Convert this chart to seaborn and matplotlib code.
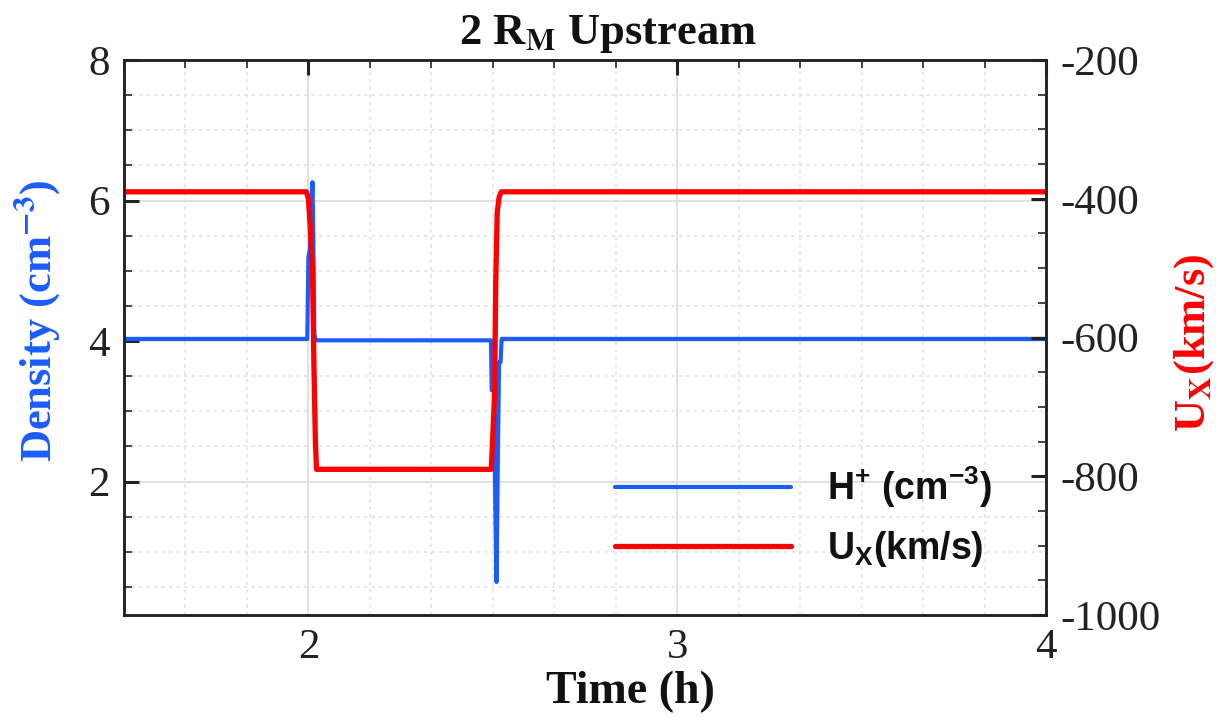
import matplotlib
matplotlib.use("Agg")
import matplotlib.pyplot as plt
import seaborn as sns
from matplotlib.ticker import MultipleLocator, FixedLocator
from matplotlib.font_manager import FontProperties

# ---- data ----
time_density = [1.5, 1.997, 2.0, 2.004, 2.008, 2.011, 2.013, 2.016, 2.02,
                2.495, 2.497, 2.503, 2.507, 2.51, 2.514, 2.517, 2.521, 2.524, 4.0]
density = [4.03, 4.03, 5.2, 5.3, 5.8, 6.26, 5.6, 4.1, 4.01,
           4.01, 3.3, 3.3, 1.6, 0.57, 2.5, 3.7, 3.7, 4.03, 4.03]

time_ux = [1.5, 1.995, 2.0, 2.005, 2.011, 2.015, 2.019, 2.022,
           2.496, 2.505, 2.508, 2.512, 2.517, 2.523, 4.0]
ux = [-390, -390, -400, -440, -500, -640, -750, -790,
      -790, -680, -520, -420, -398, -390, -390]

x_ticks = [2, 3, 4]
density_ticks = [2, 4, 6, 8]
ux_ticks = [-1000, -800, -600, -400, -200]

label_density = "H$^{\\mathbf{+}}$ (cm$^{\\mathbf{-3}}$)"
label_ux = "U$_{\\mathbf{X}}$(km/s)"

# ---- style ----
sns.set_theme(style="white")
plt.rcParams['font.family'] = ['Liberation Serif', 'DejaVu Serif']
plt.rcParams['axes.unicode_minus'] = False
plt.rcParams['mathtext.fontset'] = 'custom'
plt.rcParams['mathtext.rm'] = 'Liberation Sans:bold'
plt.rcParams['mathtext.bf'] = 'Liberation Sans:bold'
plt.rcParams['mathtext.it'] = 'Liberation Sans:bold'

BLUE = '#1a5cff'
RED = '#ff0000'

fig = plt.figure(figsize=(12.16, 7.18), dpi=100)
ax = fig.add_axes([124 / 1216, 1 - 615 / 718, 922 / 1216, 555 / 718])
ax2 = ax.twinx()

sns.lineplot(x=time_density, y=density, ax=ax, color=BLUE, lw=3.0,
             estimator=None, sort=False, label=label_density, legend=False)
sns.lineplot(x=time_ux, y=ux, ax=ax2, color=RED, lw=3.8,
             estimator=None, sort=False, label=label_ux, legend=False)

ax.set_xlim(1.5, 4)
ax.set_ylim(0.1, 8)
ax2.set_ylim(-1000, -200)

ax.xaxis.set_major_locator(FixedLocator(x_ticks))
ax.xaxis.set_minor_locator(MultipleLocator(1 / 6))
ax.yaxis.set_major_locator(FixedLocator(density_ticks))
ax.yaxis.set_minor_locator(MultipleLocator(0.5))
ax2.yaxis.set_major_locator(FixedLocator(ux_ticks))
ax2.yaxis.set_minor_locator(MultipleLocator(50))

ax.set_axisbelow(True)
ax.grid(which='major', color='#dcdcdc', lw=1.2, ls='-')
ax.grid(which='minor', color='#e2e2e2', lw=1.2, ls=(0, (2, 2.5)))

for a in (ax, ax2):
    for s in a.spines.values():
        s.set_color('#222222')
        s.set_linewidth(1.8)

ax.tick_params(which='major', direction='in', top=True, right=False,
               length=11, width=2.2, color='#222222', labelsize=31, pad=10,
               labelcolor='#222222')
ax.tick_params(which='minor', direction='in', top=True, right=False,
               length=6, width=1.4, color='#444444')
ax2.tick_params(which='major', direction='in', right=True, left=False,
                length=11, width=2.2, color='#222222', labelsize=31, pad=10,
                labelcolor='#222222')
ax2.tick_params(which='minor', direction='in', right=True, left=False,
                length=6, width=1.4, color='#444444')

ax.set_xlabel("Time (h)", fontsize=33, fontweight='bold', color='#111111',
              math_fontfamily='stix')
ax.xaxis.set_label_coords(0.549, -0.1)
ax.set_ylabel("Density (cm$^{\\mathbf{-3}}$)", fontsize=32, fontweight='bold',
              color=BLUE, math_fontfamily='stix')
ax.yaxis.set_label_coords(-0.066, 0.53)
ax2.set_ylabel("U$_{\\mathbf{X}}$(km/s)", fontsize=32, fontweight='bold',
               color=RED, math_fontfamily='stix')
ax2.yaxis.set_label_coords(1.137, 0.49)

fig.text(0.5, 1 - 44 / 718, "2 R$_{\\mathbf{M}}$ Upstream", ha='center',
         va='baseline', fontsize=32, fontweight='bold', color='#111111',
         math_fontfamily='stix')

handles = [ax.get_lines()[0], ax2.get_lines()[0]]
labels = [label_density, label_ux]
leg = ax2.legend(handles, labels, loc='center left',
                 bbox_to_anchor=(0.5325, 0.1766), frameon=False,
                 prop=FontProperties(family='Liberation Sans', weight='bold', size=27),
                 handlelength=4.7, handletextpad=0.95, labelspacing=0.5,
                 borderpad=0, borderaxespad=0)
for t in leg.get_texts():
    t.set_color('#111111')

fig.savefig("out.png", dpi=100)
